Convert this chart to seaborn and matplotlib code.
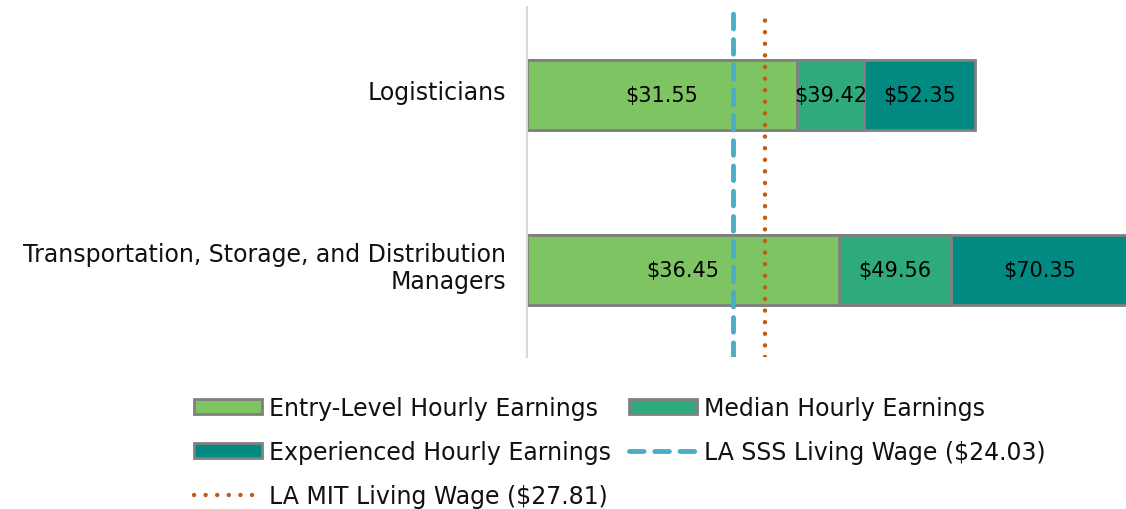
import pandas as pd
import matplotlib.pyplot as plt
import matplotlib.transforms as mtransforms
import seaborn as sns
from matplotlib.patches import Patch
from matplotlib.lines import Line2D

occupations = ["Logisticians", "Transportation, Storage, and Distribution\nManagers"]
entry = [31.55, 36.45]
median = [39.42, 49.56]
experienced = [52.35, 70.35]
sss_wage = 24.03
mit_wage = 27.81

c_entry = "#7FC463"
c_median = "#2EAA7C"
c_exp = "#008A82"
c_edge = "#808080"
c_sss = "#4BACC6"
c_mit = "#C55A11"

sns.set_style("white")
plt.rcParams["font.family"] = ["DejaVu Sans"]
plt.rcParams["text.color"] = "#111111"
plt.rcParams["ytick.color"] = "#111111"
fs = 17

df = pd.DataFrame({"occ": occupations, "entry": entry,
                   "median": median, "exp": experienced})

fig = plt.figure(figsize=(11.26, 5.10), dpi=100)
ax = fig.add_axes([0.468, 0.298, 0.532, 0.686])

## stacked bars: draw the longest first, shorter ones on top
for col, c in [("exp", c_exp), ("median", c_median), ("entry", c_entry)]:
    sns.barplot(data=df, y="occ", x=col, color=c, orient="h", width=0.4,
                edgecolor=c_edge, linewidth=2, ax=ax, saturation=1)

for i in range(len(occupations)):
    starts = [0, entry[i], median[i]]
    ends = [entry[i], median[i], experienced[i]]
    for s, e in zip(starts, ends):
        ax.text((s + e) / 2, i, f"${e:.2f}", ha="center", va="center",
                fontsize=15, color="black")

sss_ls = (0, (3, 2.2))
mit_ls = (0, (0.01, 2.6))
ax.axvline(sss_wage, ymin=0.0, ymax=0.99, color=c_sss, linestyle=sss_ls,
           linewidth=3.5, dash_capstyle="round")
ax.axvline(mit_wage, ymin=0.0, ymax=0.99, color=c_mit, linestyle=mit_ls,
           linewidth=3.2, dash_capstyle="round")

ax.set_xlim(0, 70)
ax.set_ylim(1.5, -0.5)
ax.set_xlabel("")
ax.set_ylabel("")
ax.set_xticks([])
ax.tick_params(axis="y", length=0, pad=15, labelsize=fs)
shift_up = mtransforms.ScaledTranslation(0, 4 / 72, fig.dpi_scale_trans)
for t in ax.get_yticklabels():
    t.set_ha("right")
    t.set_multialignment("right")
    t.set_linespacing(1.15)
    t.set_transform(t.get_transform() + shift_up)
for s in ["top", "right", "bottom"]:
    ax.spines[s].set_visible(False)
ax.spines["left"].set_color("#D9D9D9")
ax.spines["left"].set_linewidth(1.5)

h_entry = Patch(facecolor=c_entry, edgecolor=c_edge, linewidth=2, label="Entry-Level Hourly Earnings")
h_median = Patch(facecolor=c_median, edgecolor=c_edge, linewidth=2, label="Median Hourly Earnings")
h_exp = Patch(facecolor=c_exp, edgecolor=c_edge, linewidth=2, label="Experienced Hourly Earnings")
h_sss = Line2D([], [], color=c_sss, linestyle=sss_ls, linewidth=3.5,
               dash_capstyle="round", label="LA SSS Living Wage ($24.03)")
h_mit = Line2D([], [], color=c_mit, linestyle=mit_ls, linewidth=3.2,
               dash_capstyle="round", label="LA MIT Living Wage ($27.81)")
# column-wise fill gives the row order of the original
fig.legend(handles=[h_entry, h_exp, h_mit, h_median, h_sss], ncol=2,
           loc="upper left", bbox_to_anchor=(0.172, 0.222),
           frameon=False, fontsize=fs, handlelength=2.9, handleheight=0.6,
           handletextpad=0.3, columnspacing=0.75, labelspacing=0.86,
           borderaxespad=0, borderpad=0)

fig.savefig("out.png", dpi=100)
